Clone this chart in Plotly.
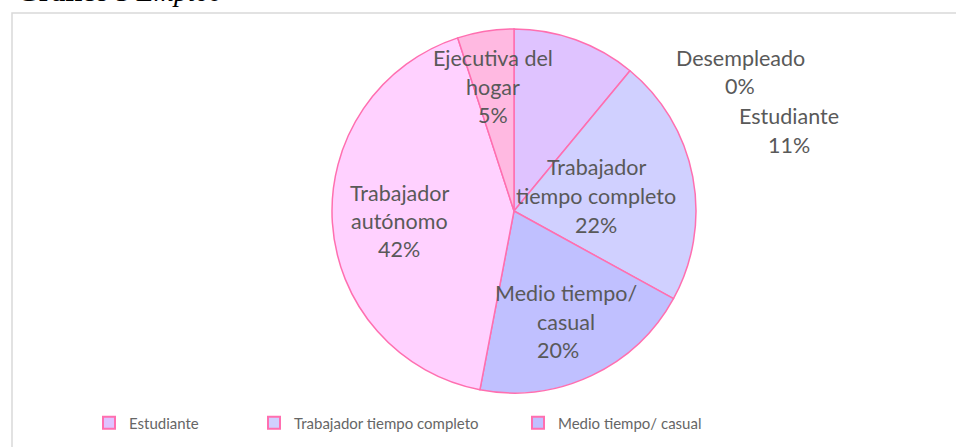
import plotly.graph_objects as go

categories = ["Desempleado", "Estudiante", "Trabajador tiempo completo",
              "Medio tiempo/ casual", "Trabajador autónomo", "Ejecutiva del hogar"]
values = [0, 11, 22, 20, 42, 5]
pct_labels = ["0%", "11%", "22%", "20%", "42%", "5%"]
legend_items = ["Estudiante", "Trabajador tiempo completo", "Medio tiempo/ casual"]

colors = ["#D9B8FF", "#DFC3FF", "#D0D0FF", "#C0C0FF", "#FFD1FF", "#FFB9E1"]
edge = "#FF6FB0"
txt = "#595959"
FONT = "Lato, 'Noto Sans', sans-serif"
W, H = 956, 447

fig = go.Figure()

cx, cy, r = 514, 211, 182
fig.add_trace(go.Pie(
    labels=categories, values=values, sort=False, direction="clockwise",
    rotation=0, textinfo="none", hoverinfo="none", showlegend=False,
    marker=dict(colors=colors, line=dict(color=edge, width=1.5)),
    domain=dict(x=[(cx - r) / W, (cx + r) / W], y=[(H - cy - r) / H, (H - cy + r) / H]),
))

# legend entries (dummy traces so only three show, as in the original)
leg_x = [89, 254, 518]
legend_color = {"Estudiante": colors[1], "Trabajador tiempo completo": colors[2],
                "Medio tiempo/ casual": colors[3]}
for i, name in enumerate(legend_items):
    lname = "legend" if i == 0 else f"legend{i+1}"
    fig.add_trace(go.Scatter(
        x=[None], y=[None], mode="markers", name=name, legend=lname,
        marker=dict(symbol="square", size=12, color=legend_color[name],
                    line=dict(color=edge, width=2)),
        hoverinfo="skip",
    ))

leg_common = dict(orientation="h", yanchor="middle", y=1 - 423 / H, xanchor="left",
                  font=dict(family=FONT, size=15, color="#666666"),
                  bgcolor="rgba(0,0,0,0)", itemwidth=30)

# data labels: (text lines, center x, line y's)
label_pos = {
    0: ([categories[0], pct_labels[0]], 740, [58, 86]),
    1: ([categories[1], pct_labels[1]], 789, [116, 145]),
    2: (["Trabajador", "tiempo completo", pct_labels[2]], 596, [167, 196, 225]),
    3: (["Medio tiempo/", "casual", pct_labels[3]], 566, [293, 322, 350]),
    4: (["Trabajador", "autónomo", pct_labels[4]], 399, [193, 221, 249]),
    5: (["Ejecutiva del", "hogar", pct_labels[5]], 493, [58, 87, 115]),
}
annotations = []
for idx, (lines, x, ys) in label_pos.items():
    for line, y in zip(lines, ys):
        xx = 558 if line == "20%" else x
        annotations.append(dict(
            text=line, x=xx / W, y=1 - y / H, xref="paper", yref="paper",
            xanchor="center", yanchor="middle", showarrow=False,
            font=dict(family=FONT, size=21.5, color=txt)))

# partially visible title (cut at the top, as in the source image)
annotations.append(dict(
    text="<b>Gráfico 5</b> <i>Empleo</i>", x=15 / W, y=1 - 9.2 / H, xref="paper", yref="paper",
    xanchor="left", yanchor="bottom", showarrow=False,
    font=dict(family="'Liberation Serif', 'Times New Roman', serif", size=28, color="black")))

fig.update_layout(
    width=W, height=H, margin=dict(l=0, r=0, t=0, b=0),
    paper_bgcolor="white", plot_bgcolor="white",
    xaxis=dict(visible=False), yaxis=dict(visible=False),
    legend=dict(x=leg_x[0] / W, **leg_common),
    legend2=dict(x=leg_x[1] / W, **leg_common),
    legend3=dict(x=leg_x[2] / W, **leg_common),
    annotations=annotations,
    shapes=[dict(type="rect", xref="paper", yref="paper",
                 x0=12 / W, x1=1.05, y0=-0.05, y1=1 - 13 / H,
                 line=dict(color="#D9D9D9", width=1.5), fillcolor="rgba(0,0,0,0)",
                 layer="below")],
)

fig.write_html("out.html", config={"displayModeBar": False},
               post_script="document.body.style.margin='0';")
